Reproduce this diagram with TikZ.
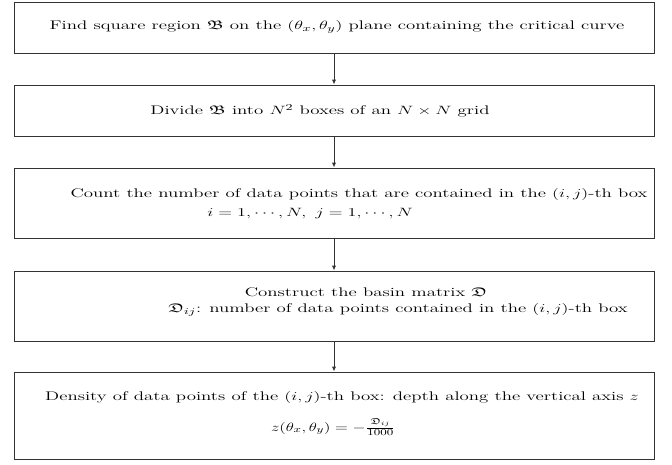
\documentclass[tikz,border=0pt]{standalone}
\usepackage{amssymb}
\usetikzlibrary{arrows.meta}
\newcommand{\widetext}[1]{\scalebox{1.51}[1]{#1}}
\begin{document}
\begin{tikzpicture}[x=1pt,y=-1pt,
  stepbox/.style={draw=black!80, line width=1pt, minimum width=640pt, inner sep=0pt},
  txt/.style={inner sep=0pt, font=\fontsize{12.5}{15}\selectfont},
  conn/.style={draw=black!80, line width=1pt, -{Latex[length=5pt,width=4.5pt]}}]
\useasboundingbox (0,0) rectangle (672,464);
\node[stepbox, minimum height=51pt] (b1) at (334,27.5) {};
\node[stepbox, minimum height=51pt] (b2) at (334,110.5) {};
\node[stepbox, minimum height=70pt] (b3) at (334,203) {};
\node[stepbox, minimum height=70pt] (b4) at (334,306) {};
\node[stepbox, minimum height=87pt] (b5) at (334,415.5) {};
\node[txt] (t1) at (337,27) {\widetext{Find square region $\mathfrak{B}$ on the $(\theta_x,\theta_y)$ plane containing the critical curve}};
\node[txt] (t2) at (320,111) {\widetext{Divide $\mathfrak{B}$ into $N^2$ boxes of an $N\times N$ grid}};
\node[txt] (t3a) at (359,194) {\widetext{Count the number of data points that are contained in the $(i,j)$-th box}};
\node[txt] (t3b) at (310,214) {\widetext{$i=1,\cdots,N,\ j=1,\cdots,N$}};
\node[txt] (t4a) at (366,292) {\widetext{Construct the basin matrix $\mathfrak{D}$}};
\node[txt] (t4b) at (398,310) {\widetext{$\mathfrak{D}_{ij}$: number of data points contained in the $(i,j)$-th box}};
\node[txt] (t5a) at (342,397) {\widetext{Density of data points of the $(i,j)$-th box: depth along the vertical axis $z$}};
\node[txt] (t5b) at (333,427) {\scalebox{1.4}[1]{$z(\theta_x,\theta_y)=-\frac{\raisebox{1.5pt}{$\scriptstyle\mathfrak{D}_{ij}$}}{1000}$}};
\draw[conn] (b1) -- (b2);
\draw[conn] (b2) -- (b3);
\draw[conn] (b3) -- (b4);
\draw[conn] (b4) -- (b5);
\end{tikzpicture}
\end{document}
